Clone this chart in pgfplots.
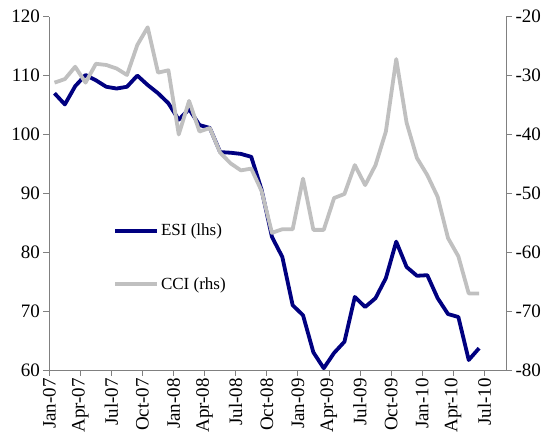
\documentclass[border=0pt]{standalone}
\usepackage{pgfplots}
\pgfplotsset{compat=1.18}
\usepackage{pgfplotstable}
\usepackage{fontspec}
\setmainfont{Liberation Serif}
\definecolor{esi}{RGB}{0,0,128}
\definecolor{cci}{RGB}{192,192,192}
\definecolor{axc}{RGB}{128,128,128}

\pgfplotstableread{
i esi cci
0.5 107.0 -31.2
1.5 105.1 -30.6
2.5 108.2 -28.5
3.5 110.1 -31.2
4.5 109.2 -28.0
5.5 108.1 -28.2
6.5 107.8 -28.8
7.5 108.1 -29.9
8.5 110.0 -24.8
9.5 108.4 -21.8
10.5 107.0 -29.5
11.5 105.3 -29.1
12.5 102.5 -40.0
13.5 104.3 -34.3
14.5 101.6 -39.5
15.5 101.1 -38.9
16.5 97.0 -43.1
17.5 96.9 -44.9
18.5 96.7 -46.1
19.5 96.2 -45.8
20.5 90.6 -49.6
21.5 82.6 -56.7
22.5 79.2 -56.1
23.5 71.0 -56.1
24.5 69.3 -47.5
25.5 63.0 -56.2
26.5 60.3 -56.2
27.5 62.9 -50.8
28.5 64.8 -50.1
29.5 72.4 -45.2
30.5 70.7 -48.6
31.5 72.2 -45.2
32.5 75.6 -39.5
33.5 81.8 -27.2
34.5 77.5 -38.0
35.5 76.0 -44.0
36.5 76.1 -46.9
37.5 72.2 -50.6
38.5 69.5 -57.6
39.5 69.0 -60.7
40.5 61.7 -67.0
41.5 63.7 -67.0
}\data

\begin{document}
\begin{tikzpicture}[font=\fontsize{16.5}{19}\selectfont]
\pgfplotsset{
 every axis/.append style={
  scale only axis, width=456.7pt, height=353.3pt,
  xmin=0, xmax=44.1,
  /pgf/number format/assume math mode=true,
  tick style={axc, line width=0.8pt},
  axis line style={axc, line width=0.8pt},
  tick align=outside, major tick length=6pt,
  ticklabel style={font=\fontsize{19}{22}\selectfont, text=black},
 }
}
\begin{axis}[
  axis x line*=bottom, axis y line*=left,
  ymin=60, ymax=120, ytick={60,70,...,120},
  xtick={0,3,...,42},
  xticklabels={Jan-07,Apr-07,Jul-07,Oct-07,Jan-08,Apr-08,Jul-08,Oct-08,Jan-09,Apr-09,Jul-09,Oct-09,Jan-10,Apr-10,Jul-10},
  x tick label style={rotate=90, anchor=east, inner sep=2pt},
]
\addplot[esi, line width=3.8pt, line join=round] table[x=i,y=esi]{\data};
\end{axis}
\begin{axis}[
  axis x line=none, axis y line*=right,
  ymin=-80, ymax=-20, ytick={-80,-70,...,-20},
  legend style={at={(rel axis cs:0.133,0.425)}, anchor=north west, draw=none, fill=none, row sep=36pt, legend cell align=left, font=\fontsize{17}{19}\selectfont},
  legend image code/.code={\draw[#1] (0pt,0pt) -- (42pt,0pt);},
]
\addlegendimage{esi, line width=3.8pt}
\addlegendentry{ESI (lhs)}
\addplot[cci, line width=3.8pt, line join=round] table[x=i,y=cci]{\data};
\addlegendentry{CCI (rhs)}
\end{axis}
\pgfresetboundingbox
\path ([shift={(-49.3pt,-67pt)}]current axis.south west) rectangle ([shift={(40pt,16.7pt)}]current axis.north east);
\end{tikzpicture}
\end{document}
